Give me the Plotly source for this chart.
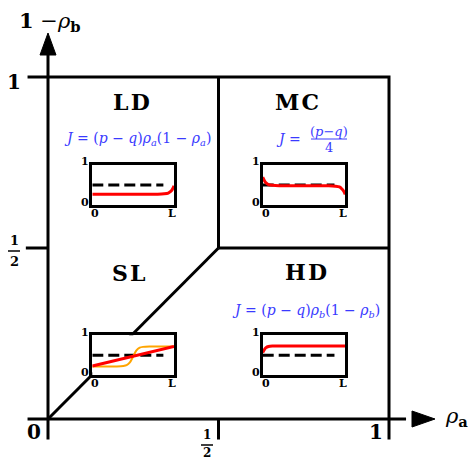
import plotly.graph_objects as go

W, H = 470, 460
# pixel mapping of main diagram: rho_a=0 at px 48, rho_a=1 at px 389; 1-rho_b=0 at py 419, =1 at py 77
X0, SX = 48, 341
Y0, SY = 419, 342

# ---- data: phase boundaries in (rho_a, 1-rho_b)
diag_x = [0, 0.5]; diag_y = [0, 0.5]
vert_x = [0.5, 0.5]; vert_y = [0.5, 1]
horz_x = [0.5, 1]; horz_y = [0.5, 0.5]
phase_names = ["L\u200aD", "M\u200aC", "S\u200aL", "H\u200aD"]

# ---- data: inset density profiles (position x/L, density)
ld_x = [0, 0.2, 0.4, 0.6, 0.8, 0.88, 0.93, 0.96, 0.98, 1.0]
ld_y = [0.27, 0.27, 0.27, 0.27, 0.27, 0.28, 0.30, 0.34, 0.39, 0.48]
mc_x = [0, 0.02, 0.04, 0.07, 0.12, 0.2, 0.5, 0.8, 0.88, 0.93, 0.96, 0.98, 1.0]
mc_y = [0.69, 0.61, 0.55, 0.51, 0.49, 0.48, 0.48, 0.48, 0.47, 0.45, 0.40, 0.35, 0.27]
hd_x = [0, 0.02, 0.04, 0.07, 0.12, 0.2, 0.6, 1.0]
hd_y = [0.57, 0.64, 0.69, 0.72, 0.73, 0.73, 0.73, 0.73]
sl_red_x = [0, 1]
sl_red_y = [0.23, 0.72]
sl_or_x = [0, 0.3, 0.38, 0.42, 0.46, 0.5, 0.54, 0.58, 0.62, 0.7, 1.0]
sl_or_y = [0.22, 0.22, 0.23, 0.25, 0.32, 0.47, 0.62, 0.69, 0.71, 0.72, 0.72]
half_x = [0, 0.87]; half_y = [0.5, 0.5]

def px(x):
    return x / W

def py(y):
    return 1 - y / H

fig = go.Figure()
blk = dict(color="black", width=3)

def main_line(xs, ys):
    fig.add_trace(go.Scatter(x=xs, y=ys, mode="lines", line=blk, hoverinfo="skip",
                             showlegend=False, xaxis="x", yaxis="y"))

# axes with ticks
main_line([-0.06, 1.05], [0, 0])
main_line([0, 0], [-0.06, 1.065])
main_line([-0.06, 1, 1], [1, 1, -0.06])
main_line([-0.065, 0], [0.5, 0.5])
main_line([0.5, 0.5], [0, -0.06])
# phase boundaries
main_line(diag_x, diag_y)
main_line(vert_x, vert_y)
main_line(horz_x, horz_y)

# arrowheads
ay_tip = (Y0 - 33) / SY; ay_base = (Y0 - 55) / SY; hw = 8 / SX
fig.add_trace(go.Scatter(x=[-hw, hw, 0, -hw], y=[ay_base, ay_base, ay_tip, ay_base], mode="lines",
                         fill="toself", fillcolor="black", line=dict(color="black", width=1),
                         hoverinfo="skip", showlegend=False))
ax_tip = (435 - X0) / SX; ax_base = (412 - X0) / SX; hh = 8 / SY
fig.add_trace(go.Scatter(x=[ax_base, ax_base, ax_tip, ax_base], y=[-hh, hh, 0, -hh], mode="lines",
                         fill="toself", fillcolor="black", line=dict(color="black", width=1),
                         hoverinfo="skip", showlegend=False))

# insets: (axis index, inner pixel box x0,x1,y0,y1)
insets = [
    (2, 92.3, 174.0, 164.7, 205.2),   # LD
    (3, 262.7, 345.2, 164.7, 205.2),  # MC
    (4, 92.3, 174.0, 335.3, 375.2),   # SL
    (5, 262.7, 345.2, 335.3, 375.2),  # HD
]
layout_axes = {}
for idx, x0, x1, y0, y1 in insets:
    common = dict(showline=True, mirror=True, linewidth=3, linecolor="black", showgrid=False,
                  zeroline=False, showticklabels=False, ticks="", range=[0, 1], fixedrange=True)
    layout_axes[f"xaxis{idx}"] = dict(domain=[px(x0), px(x1)], anchor=f"y{idx}", **common)
    layout_axes[f"yaxis{idx}"] = dict(domain=[py(y1), py(y0)], anchor=f"x{idx}", **common)

def inset_trace(idx, xs, ys, color, width=3, dash=None, shape="spline"):
    fig.add_trace(go.Scatter(x=xs, y=ys, mode="lines",
                             line=dict(color=color, width=width, dash=dash, shape=shape, smoothing=0.8),
                             hoverinfo="skip", showlegend=False,
                             xaxis=f"x{idx}", yaxis=f"y{idx}"))

RED = "#ff0000"; ORANGE = "#ffa500"
dash = "11px,5px"
# LD
inset_trace(2, half_x, half_y, "black", dash=dash, shape="linear")
inset_trace(2, ld_x, ld_y, RED)
# MC
inset_trace(3, half_x, half_y, "black", dash=dash, shape="linear")
inset_trace(3, mc_x, mc_y, RED)
# SL
inset_trace(4, half_x, half_y, "black", dash=dash, shape="linear")
inset_trace(4, sl_or_x, sl_or_y, ORANGE, width=2)
inset_trace(4, sl_red_x, sl_red_y, RED, shape="linear")
# HD
inset_trace(5, half_x, half_y, "black", dash=dash, shape="linear")
inset_trace(5, hd_x, hd_y, RED)

SERIF = "DejaVu Serif"
ann = []

def text(x, y, s, size, color="black", family=SERIF, xanchor="center"):
    ann.append(dict(x=px(x), y=py(y), xref="paper", yref="paper", text=s, showarrow=False,
                    xanchor=xanchor, yanchor="middle", font=dict(family=family, size=size, color=color)))

# phase names
for name, (cx, cy) in zip(phase_names, [(131, 102), (297, 102), (129, 273), (306, 272)]):
    text(cx, cy, f"<b>{name}</b>", 22)

BLUE = "#3a3aff"
FF = "DejaVu Serif"
text(137, 139, "<i>J</i> = (<i>p</i> − <i>q</i>)<i>ρ<sub>a</sub></i>(1 − <i>ρ<sub>a</sub></i>)", 14, BLUE, FF)
text(306, 311, "<i>J</i> = (<i>p</i> − <i>q</i>)<i>ρ<sub>b</sub></i>(1 − <i>ρ<sub>b</sub></i>)", 14, BLUE, FF)
text(288, 139, "<i>J</i> =", 14, BLUE, FF)
text(329, 131, "(<i>p</i>−<i>q</i>)", 13, BLUE, FF)
text(329, 147, "4", 13, BLUE, FF)

# inset tick labels
for idx, x0, x1, y0, y1 in insets:
    text(x0 - 7, y0 - 3, "<b>1</b>", 11)
    text(x0 - 7, y1 - 3, "<b>0</b>", 11)
    text(x0 + 3, y1 + 8, "<b>0</b>", 11)
    text(x1 - 2, y1 + 8, "<b>L</b>", 11)

# main axis labels and ticks
text(50, 22, "<b>1</b> −<i>ρ</i><sub><b>b</b></sub>", 21)
text(456, 417, "<i>ρ</i><sub><b>a</b></sub>", 21)
text(14, 82, "<b>1</b>", 20)
text(34, 432, "<b>0</b>", 20)
text(376, 432, "<b>1</b>", 20)
text(14, 240, "<b>1</b>", 13)
text(14, 261, "<b>2</b>", 13)
text(207, 435, "<b>1</b>", 12)
text(207, 453, "<b>2</b>", 12)

shapes = [
    dict(type="line", xref="paper", yref="paper", x0=px(8), x1=px(20), y0=py(251), y1=py(251),
         line=dict(color="black", width=1.5)),
    dict(type="line", xref="paper", yref="paper", x0=px(201), x1=px(213), y0=py(445), y1=py(445),
         line=dict(color="black", width=1.5)),
    dict(type="line", xref="paper", yref="paper", x0=px(311), x1=px(347), y0=py(139), y1=py(139),
         line=dict(color=BLUE, width=1)),
]

fig.update_layout(
    width=W, height=H, margin=dict(l=0, r=0, t=0, b=0), autosize=False,
    paper_bgcolor="white", plot_bgcolor="white", showlegend=False,
    xaxis=dict(range=[-X0 / SX, (W - X0) / SX], visible=False, domain=[0, 1], fixedrange=True),
    yaxis=dict(range=[-(H - Y0) / SY, Y0 / SY], visible=False, domain=[0, 1], fixedrange=True),
    annotations=ann, shapes=shapes, **layout_axes,
)
fig.write_html("out.html", config={"displayModeBar": False},
               post_script="document.body.style.margin='0px';document.body.style.overflow='hidden';")
